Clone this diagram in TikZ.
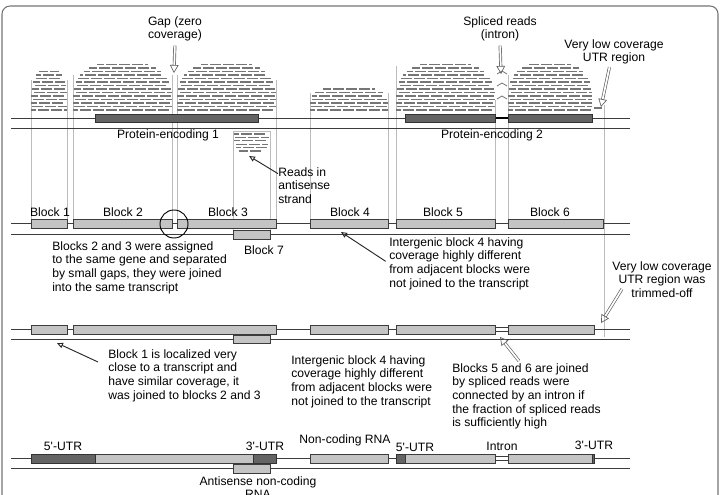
\documentclass[tikz,border=0pt]{standalone}
\usepackage{fontspec}
\setmainfont{Liberation Sans}
\usetikzlibrary{arrows.meta}

\definecolor{strandgray}{RGB}{60,60,60}
\definecolor{guidegray}{RGB}{188,188,188}
\definecolor{readgray}{RGB}{118,118,118}
\definecolor{blockfill}{RGB}{196,196,196}
\definecolor{darkfill}{RGB}{100,100,100}
\definecolor{framegray}{RGB}{115,115,115}
\definecolor{arrowgray}{RGB}{95,95,95}

\tikzset{
  strand/.style={draw=strandgray, line width=0.6pt},
  guide/.style={draw=guidegray, line width=0.45pt},
  read/.style={draw=readgray, line width=0.85pt},
  blockbox/.style={draw=strandgray, fill=blockfill, line width=0.6pt},
  darkbox/.style={draw=black!80, fill=darkfill, line width=0.6pt},
  lbl/.style={inner sep=0pt, font=\fontsize{9.1}{10.3}\selectfont},
  note/.style={lbl, align=left, anchor=north west},
  pointer/.style={draw=black!85, line width=0.7pt, -{Triangle[open, length=4.5pt, width=4pt]}},
  hollow/.style={draw=arrowgray, line width=0.5pt, double=white, double distance=1.3pt,
    -{Triangle[open, length=6pt, width=6.5pt]}},
}

% pile of short reads: left, right, first row y, rows, row step
\newcommand{\readpile}[5]{%
  \foreach \k in {1,...,#4}{%
    \pgfmathsetmacro{\rpHw}{(#2-#1)/2*sqrt(1-((\k-1)/#4)^4)}
    \pgfmathsetmacro{\rpCx}{(#1+#2)/2}
    \pgfmathsetmacro{\rpY}{#3-(\k-1)*#5}
    \pgfmathsetmacro{\rpOff}{mod(\k*7,13)}
    \foreach \j in {0,...,9}{%
      \pgfmathsetmacro{\rpXa}{max(#1+\rpOff-13+\j*13,\rpCx-\rpHw)}
      \pgfmathsetmacro{\rpXb}{min(#1+\rpOff-2+\j*13,\rpCx+\rpHw)}
      \pgfmathtruncatemacro{\rpOk}{\rpXb-\rpXa>2.5}
      \ifnum\rpOk=1 \draw[read] (\rpXa,\rpY) -- (\rpXb,\rpY);\fi
    }}}

\begin{document}
\begin{tikzpicture}[x=0.75pt, y=-0.75pt]
    \clip (0,0) rectangle (723,495);

    % Frame
    \draw[framegray, line width=0.8pt, rounded corners=6pt] (2,6) rectangle (718,520);

    % Guide lines from the piles down to the blocks
    \foreach \gx in {31,67}{\draw[guide] (\gx,80) -- (\gx,219);}
    \foreach \gx in {73,172,177}{\draw[guide] (\gx,75) -- (\gx,219);}
    \draw[guide] (276,80) -- (276,219);
    \draw[guide] (310,93) -- (310,219);
    \draw[guide] (388,93) -- (388,219);
    \draw[guide] (396,66) -- (396,219);
    \draw[guide] (495,100) -- (495,219);
    \draw[guide] (508,75) -- (508,219);
    \draw[guide] (604,105) -- (604,337);
    \draw[guide] (233,230) -- (233,131) -- (270,131) -- (270,230);

    % Reads
    \readpile{31}{67}{110}{12}{3.5}
    \readpile{73}{172}{110}{14}{3.5}
    \readpile{177}{276}{110}{14}{3.5}
    \readpile{310}{388}{110}{7}{3.5}
    \readpile{396}{495}{110}{14}{3.5}
    \readpile{508}{592}{110}{14}{3.5}
    \readpile{234}{269}{134}{6}{-3.4}
    \draw[read] (594,108) -- (602,108);

    % Spliced reads over the intron
    \foreach \sy in {72,84,97}{
      \draw[readgray, line width=0.6pt] (497,\sy+2) -- (502,\sy-1) -- (507,\sy+2);}

    % Row 1: reads over protein-encoding genes
    \draw[strand] (11,118) -- (630,118);
    \draw[strand] (11,128) -- (630,128);
    \draw[darkbox] (95,114) rectangle (258,122);
    \draw[black, line width=1.2pt] (495,118) -- (508,118);
    \draw[darkbox] (405,114) rectangle (495,122);
    \draw[darkbox] (508,114) rectangle (592,122);
    \node[lbl] (pe1) at (168,135) {Protein-encoding 1};
    \node[lbl] (pe2) at (492,135) {Protein-encoding 2};

    % Row 2: blocks
    \draw[strand] (11,223) -- (630,223);
    \draw[strand] (11,234) -- (630,234);
    \draw[blockbox] (31,219) rectangle (67,228);
    \draw[blockbox] (73,219) rectangle (172,228);
    \draw[blockbox] (177,219) rectangle (276,228);
    \draw[blockbox] (310,219) rectangle (388,228);
    \draw[blockbox] (396,219) rectangle (495,228);
    \draw[blockbox] (508,219) rectangle (603,228);
    \draw[blockbox] (233,230) rectangle (270,239);
    \draw[black, line width=0.7pt] (174,224) circle[radius=14];
    \node[lbl] (bl1) at (50,212) {Block 1};
    \node[lbl] (bl2) at (123,212) {Block 2};
    \node[lbl] (bl3) at (228,212) {Block 3};
    \node[lbl] (bl4) at (350,212) {Block 4};
    \node[lbl] (bl5) at (443,212) {Block 5};
    \node[lbl] (bl6) at (550,212) {Block 6};
    \node[lbl] (bl7) at (264,250) {Block 7};

    % Row 3: joined transcripts
    \draw[strand] (11,329) -- (630,329);
    \draw[strand] (11,339) -- (630,339);
    \draw[blockbox] (31,325) rectangle (67,334);
    \draw[blockbox] (73,325) rectangle (276,334);
    \draw[blockbox] (233,335) rectangle (270,343);
    \draw[blockbox] (310,325) rectangle (388,334);
    \draw[strandgray, fill=white, line width=0.5pt] (495,327) rectangle (508,331);
    \draw[blockbox] (396,325) rectangle (495,334);
    \draw[blockbox] (508,325) rectangle (594,334);

    % Row 4: final transcripts
    \draw[strand] (11,458) -- (630,458);
    \draw[strand] (11,468) -- (630,468);
    \draw[blockbox] (95,454) rectangle (253,463);
    \draw[darkbox] (31,454) rectangle (95,463);
    \draw[darkbox] (253,454) rectangle (276,463);
    \draw[blockbox] (233,464) rectangle (270,473);
    \draw[blockbox] (310,454) rectangle (388,463);
    \draw[strandgray, fill=white, line width=0.5pt] (495,456) rectangle (508,460);
    \draw[darkbox] (396,454) rectangle (405,463);
    \draw[blockbox] (405,454) rectangle (495,463);
    \draw[blockbox] (508,454) rectangle (592,463);
    \draw[darkbox] (592,454) rectangle (594,463);
    \node[lbl] (utr5a) at (63,446) {5\textquotesingle-UTR};
    \node[lbl] (utr3a) at (265,446) {3\textquotesingle-UTR};
    \node[lbl] (ncrna) at (345,440) {Non-coding RNA};
    \node[lbl] (utr5b) at (415,447) {5\textquotesingle-UTR};
    \node[lbl] (intron) at (502,446) {Intron};
    \node[lbl] (utr3b) at (594,445) {3\textquotesingle-UTR};
    \node[lbl, align=center, anchor=north] (asrna) at (258,476) {Antisense non-coding\\RNA};

    % Notes
    \node[lbl, align=center, anchor=north] (gap) at (175,16) {Gap (zero\\coverage)};
    \node[lbl, align=center, anchor=north] (spliced) at (500,16) {Spliced reads\\(intron)};
    \node[lbl, align=center, anchor=north] (utr) at (614,39) {Very low coverage\\UTR region};
    \node[note] (anti) at (278,167) {Reads in\\antisense\\strand};
    \node[note] (join23) at (52,241) {Blocks 2 and 3 were assigned\\to the same gene and separated\\by small gaps, they were joined\\into the same transcript};
    \node[note] (inter2) at (389,237) {Intergenic block 4 having\\coverage highly different\\from adjacent blocks were\\not joined to the transcript};
    \node[lbl, align=center, anchor=north] (trim) at (662,261) {Very low coverage\\UTR region was\\trimmed-off};
    \node[note] (join1) at (108,349) {Block 1 is localized very\\close to a transcript and\\have similar coverage, it\\was joined to blocks 2 and 3};
    \node[note] (inter3) at (291,355) {Intergenic block 4 having\\coverage highly different\\from adjacent blocks were\\not joined to the transcript};
    \node[note] (join56) at (452,363) {Blocks 5 and 6 are joined\\by spliced reads were\\connected by an intron if\\the fraction of spliced reads\\is sufficiently high};

    % Arrows
    \coordinate (gaptip) at (174,73);
    \coordinate (splicetip) at (501,74);
    \coordinate (utrtip) at (601,107);
    \coordinate (antitip) at (249,156);
    \coordinate (b4tip) at (341,232);
    \coordinate (b1tail) at (98,362);
    \coordinate (b1tip) at (57,343);
    \coordinate (introntail) at (519,361);
    \coordinate (introntip) at (500,337);
    \coordinate (trimtail) at (622,289);
    \coordinate (trimtip) at (601,323);
    \draw[hollow, shorten <=3pt] (gap.south) -- (gaptip);
    \draw[hollow, shorten <=3pt] (spliced.south) -- (splicetip);
    \draw[hollow, shorten <=2pt] ([xshift=-3pt]utr.south) -- (utrtip);
    \draw[pointer] ([yshift=-5pt]anti.north west) -- (antitip);
    \draw[pointer, shorten <=3pt] (inter2.west) -- (b4tip);
    \draw[pointer] (b1tail) -- (b1tip);
    \draw[hollow] (introntail) -- (introntip);
    \draw[hollow] (trimtail) -- (trimtip);
\end{tikzpicture}
\end{document}
